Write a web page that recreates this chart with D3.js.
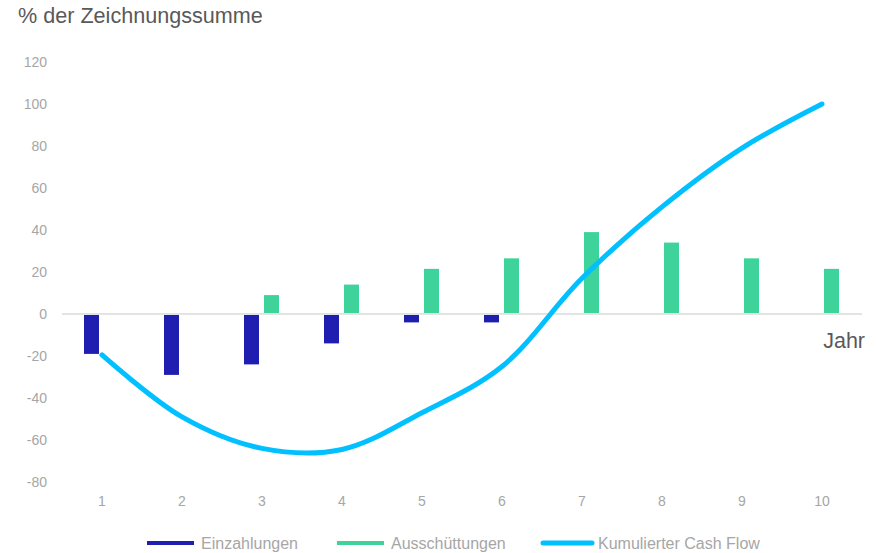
<!DOCTYPE html>
<html>
<head>
<meta charset="utf-8">
<script src="https://cdn.jsdelivr.net/npm/d3@7"></script>
<style>
  html, body { margin: 0; padding: 0; background: #fff; }
  svg { display: block; font-family: "Liberation Sans", Arial, sans-serif; }
</style>
</head>
<body>
<svg id="chart" width="877" height="553"></svg>
<script>
const years = [1, 2, 3, 4, 5, 6, 7, 8, 9, 10];
const einzahlungen = [-19, -29, -24, -14, -4, -4, 0, 0, 0, 0];
const ausschuettungen = [0, 0, 9, 14, 21.5, 26.5, 39, 34, 26.5, 21.5];
const kumuliert = [-19.5, -49, -64, -64.5, -47, -25, 17, 51, 79, 100];
const yTicks = [-80, -60, -40, -20, 0, 20, 40, 60, 80, 100, 120];
const seriesNames = ["Einzahlungen", "Ausschüttungen", "Kumulierter Cash Flow"];
const colors = ["#201EB0", "#3DD39A", "#00C0FF"];

const svg = d3.select("#chart");

const x = d3.scaleBand().domain(years).range([62, 862]).padding(0);
const y = d3.scaleLinear().domain([-80, 120]).range([482, 62]);
const cx = d => x(d) + x.bandwidth() / 2;

// Title
svg.append("text").attr("x", 18).attr("y", 23)
  .attr("font-size", 21.6).attr("fill", "#595959")
  .text("% der Zeichnungssumme");

// Y tick labels
svg.append("g").selectAll("text").data(yTicks).join("text")
  .attr("x", 47).attr("y", d => y(d)).attr("dy", "0.35em")
  .attr("text-anchor", "end").attr("font-size", 14).attr("fill", "#a6a6a6")
  .text(d => d);

// X tick labels
svg.append("g").selectAll("text").data(years).join("text")
  .attr("x", d => cx(d)).attr("y", 506)
  .attr("text-anchor", "middle").attr("font-size", 14).attr("fill", "#a6a6a6")
  .text(d => d);

// Bars
const bw = 15;
svg.append("g").selectAll("rect").data(years.map((yr, i) => ({yr, v: einzahlungen[i]})).filter(d => d.v !== 0))
  .join("rect")
  .attr("x", d => cx(d.yr) - 18).attr("width", bw)
  .attr("y", d => Math.min(y(0), y(d.v))).attr("height", d => Math.abs(y(d.v) - y(0)))
  .attr("fill", colors[0]);
svg.append("g").selectAll("rect").data(years.map((yr, i) => ({yr, v: ausschuettungen[i]})).filter(d => d.v !== 0))
  .join("rect")
  .attr("x", d => cx(d.yr) + 2).attr("width", bw)
  .attr("y", d => Math.min(y(0), y(d.v))).attr("height", d => Math.abs(y(d.v) - y(0)))
  .attr("fill", colors[1]);

// Zero line
svg.append("line").attr("x1", 62).attr("x2", 862).attr("y1", y(0)).attr("y2", y(0))
  .attr("stroke", "#e3e3e3").attr("stroke-width", 2);

// X axis title
svg.append("text").attr("x", 865).attr("y", 348).attr("text-anchor", "end")
  .attr("font-size", 21.5).attr("fill", "#595959").text("Jahr");

// Line
const line = d3.line().x((d, i) => cx(years[i])).y(d => y(d)).curve(d3.curveCatmullRom.alpha(0.5));
svg.append("path").datum(kumuliert).attr("d", line)
  .attr("fill", "none").attr("stroke", colors[2]).attr("stroke-width", 5)
  .attr("stroke-linecap", "round").attr("stroke-linejoin", "round");

// Legend
const legend = [
  {name: seriesNames[0], color: colors[0], x1: 147, x2: 194, w: 4, cap: "butt", tx: 201},
  {name: seriesNames[1], color: colors[1], x1: 337, x2: 384, w: 4, cap: "butt", tx: 391},
  {name: seriesNames[2], color: colors[2], x1: 543, x2: 592, w: 5, cap: "round", tx: 598}
];
const lg = svg.append("g").selectAll("g").data(legend).join("g");
lg.append("line").attr("x1", d => d.x1).attr("x2", d => d.x2).attr("y1", 543).attr("y2", 543)
  .attr("stroke", d => d.color).attr("stroke-width", d => d.w).attr("stroke-linecap", d => d.cap);
lg.append("text").attr("x", d => d.tx).attr("y", 543).attr("dy", "0.35em")
  .attr("font-size", 16).attr("fill", "#a6a6a6").text(d => d.name);
</script>
</body>
</html>
